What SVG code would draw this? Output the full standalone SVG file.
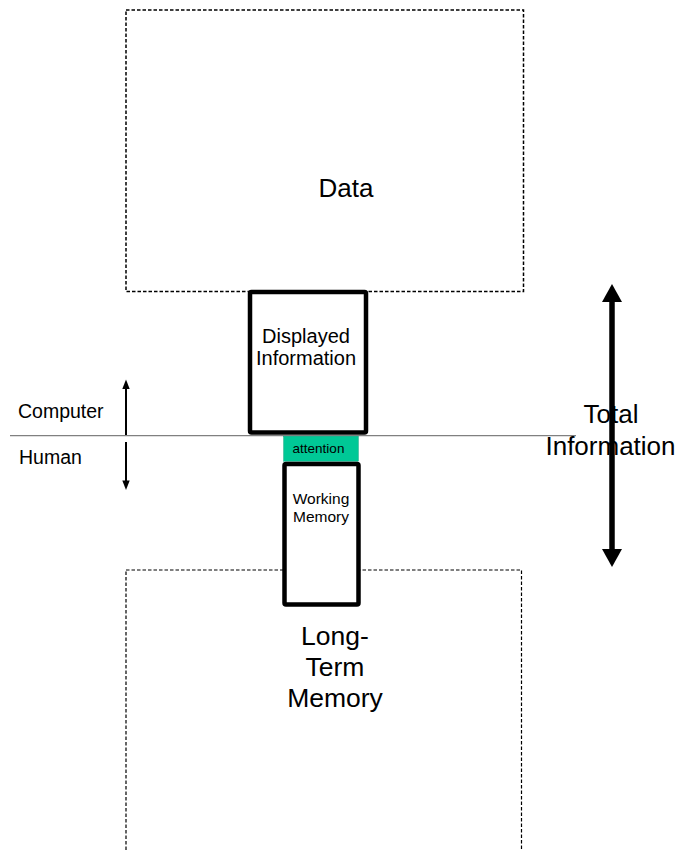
<svg xmlns="http://www.w3.org/2000/svg" width="682" height="850" viewBox="0 0 682 850">
<style>
text{font-family:"Liberation Sans",Arial,sans-serif;fill:#000}
.dash{fill:none;stroke:#000;stroke-width:1.2;stroke-dasharray:3.5,2}
.thick{fill:#fff;stroke:#000;stroke-width:4.5;stroke-linejoin:round}
</style>
<rect width="682" height="850" fill="#fff"/>
<g id="data"><rect class="dash" x="126" y="10" width="397.5" height="281.5" style="stroke-width:1.5"/><text x="346" y="197" font-size="26" text-anchor="middle">Data</text></g>
<g id="ltm"><rect class="dash" x="126" y="570" width="395.5" height="300"/><text x="335" y="645" font-size="26.5" text-anchor="middle">Long-</text><text x="335" y="676" font-size="26.5" text-anchor="middle">Term</text><text x="335" y="707" font-size="26.5" text-anchor="middle">Memory</text></g>
<g id="connectors">
<line x1="10" y1="435.7" x2="576" y2="435.7" stroke="#808080" stroke-width="1.3"/>
<line x1="126" y1="388" x2="126" y2="435" stroke="#000" stroke-width="2"/>
<polygon points="126,379.5 122.3,389 129.7,389" fill="#000"/>
<line x1="126" y1="442" x2="126" y2="482" stroke="#000" stroke-width="2"/>
<polygon points="126,490 122.3,480.5 129.7,480.5" fill="#000"/>
<line x1="612" y1="300" x2="612" y2="550" stroke="#000" stroke-width="5.5"/>
<polygon points="612,284 602,302 622,302" fill="#000"/>
<polygon points="612,567 602,549 622,549" fill="#000"/>
</g>
<g id="total"><text x="611" y="423" font-size="26" text-anchor="middle">Total</text><text x="610.5" y="455" font-size="26" text-anchor="middle">Information</text></g>
<g id="displayed"><rect class="thick" x="250" y="292" width="116" height="140.5" rx="1.5"/><text x="306" y="343" font-size="20" text-anchor="middle">Displayed</text><text x="306" y="365" font-size="20" text-anchor="middle">Information</text></g>
<g id="attention"><rect x="283.7" y="436.2" width="74.6" height="25" fill="#00C896" stroke="#00A078" stroke-width="0.5"/><text x="318.5" y="453" font-size="13.5" text-anchor="middle">attention</text></g>
<g id="working"><rect class="thick" x="284.5" y="464" width="74" height="140.5" rx="1.5"/><text x="321" y="503.5" font-size="15.5" text-anchor="middle">Working</text><text x="321" y="521.5" font-size="15.5" text-anchor="middle">Memory</text></g>
<g id="computer"><text x="18" y="418" font-size="19.5">Computer</text></g>
<g id="human"><text x="19" y="464" font-size="19.5">Human</text></g>
</svg>
